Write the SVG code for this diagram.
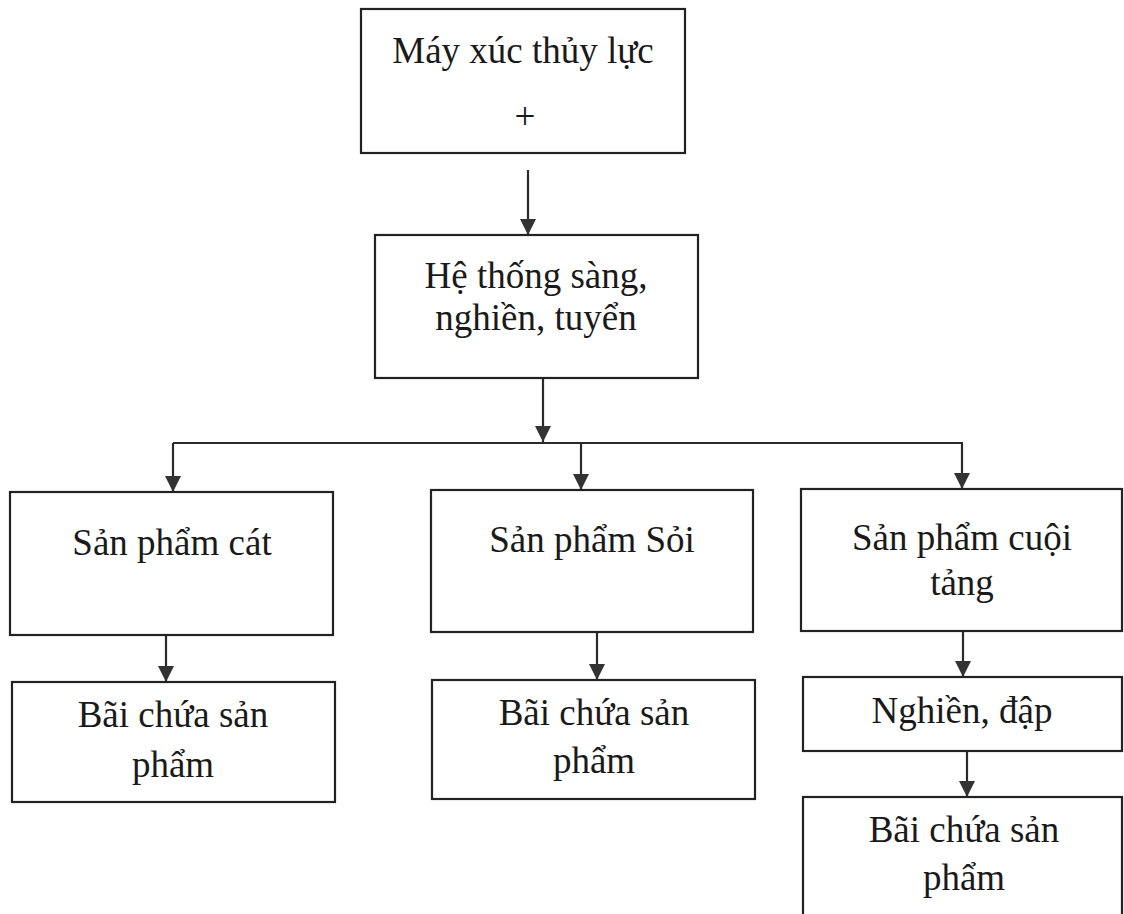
<svg xmlns="http://www.w3.org/2000/svg" width="1124" height="914" viewBox="0 0 1124 914">
  <style>
    .box { fill: #ffffff; stroke: #222222; stroke-width: 2.2; }
    .lbl { font-family: "Liberation Serif", "Times New Roman", serif; font-size: 37px; fill: #1a1a1a; text-anchor: middle; }
    .wire { fill: none; stroke: #2a2a2a; stroke-width: 2.2; }
  </style>
  <defs>
    <marker id="arrow" markerUnits="userSpaceOnUse" markerWidth="16" markerHeight="16" viewBox="0 0 16 16" refX="16" refY="8" orient="auto">
      <path d="M0,0 L16,8 L0,16 Z" fill="#333333"/>
    </marker>
  </defs>

  <rect width="1124" height="914" fill="#ffffff"/>

  <g id="connectors">
    <path class="wire" d="M528,170 V235" marker-end="url(#arrow)"/>
    <path class="wire" d="M543,378 V442" marker-end="url(#arrow)"/>
    <path class="wire" d="M173,443 H963"/>
    <path class="wire" d="M173,443 V492" marker-end="url(#arrow)"/>
    <path class="wire" d="M581,443 V490" marker-end="url(#arrow)"/>
    <path class="wire" d="M962,443 V489" marker-end="url(#arrow)"/>
    <path class="wire" d="M166,635 V682" marker-end="url(#arrow)"/>
    <path class="wire" d="M597,632 V680" marker-end="url(#arrow)"/>
    <path class="wire" d="M963,631 V677" marker-end="url(#arrow)"/>
    <path class="wire" d="M967,751 V797" marker-end="url(#arrow)"/>
  </g>

  <g id="excavator">
    <rect class="box" x="361" y="9" width="324" height="144"/>
    <text class="lbl" x="523" y="63">Máy xúc thủy lực</text>
    <text class="lbl" x="525" y="129">+</text>
  </g>

  <g id="screening">
    <rect class="box" x="375" y="235" width="323" height="143"/>
    <text class="lbl" x="536" y="288">Hệ thống sàng,</text>
    <text class="lbl" x="536" y="330">nghiền, tuyển</text>
  </g>

  <g id="sand">
    <rect class="box" x="10" y="492" width="323" height="143"/>
    <text class="lbl" x="172" y="555">Sản phẩm cát</text>
  </g>

  <g id="gravel">
    <rect class="box" x="431" y="490" width="322" height="142"/>
    <text class="lbl" x="592" y="552">Sản phẩm Sỏi</text>
  </g>

  <g id="boulders">
    <rect class="box" x="801" y="489" width="321" height="142"/>
    <text class="lbl" x="962" y="550">Sản phẩm cuội</text>
    <text class="lbl" x="962" y="595">tảng</text>
  </g>

  <g id="sand-yard">
    <rect class="box" x="12" y="682" width="323" height="120"/>
    <text class="lbl" x="173" y="727">Bãi chứa sản</text>
    <text class="lbl" x="173" y="777">phẩm</text>
  </g>

  <g id="gravel-yard">
    <rect class="box" x="432" y="680" width="323" height="119"/>
    <text class="lbl" x="594" y="725">Bãi chứa sản</text>
    <text class="lbl" x="594" y="773">phẩm</text>
  </g>

  <g id="crushing">
    <rect class="box" x="803" y="677" width="319" height="74"/>
    <text class="lbl" x="962" y="723">Nghiền, đập</text>
  </g>

  <g id="crushed-yard">
    <rect class="box" x="803" y="797" width="319" height="130"/>
    <text class="lbl" x="964" y="842">Bãi chứa sản</text>
    <text class="lbl" x="964" y="890">phẩm</text>
  </g>
</svg>
